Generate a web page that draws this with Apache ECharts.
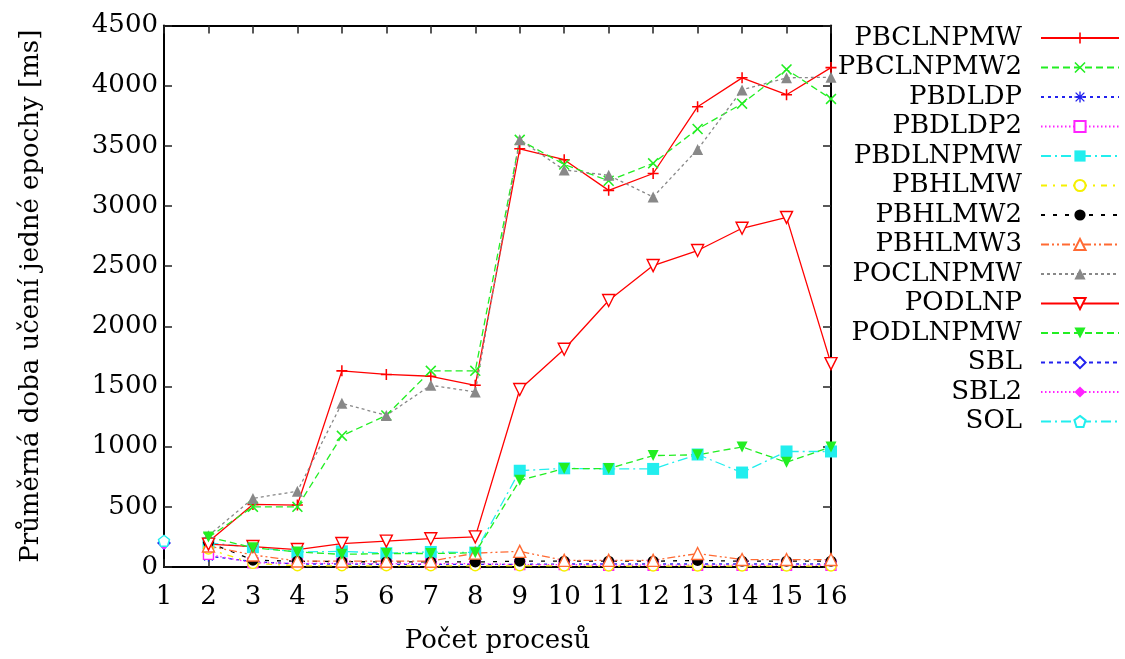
<!DOCTYPE html>
<html>
<head>
<meta charset="utf-8">
<script src="https://cdn.jsdelivr.net/npm/echarts@6/dist/echarts.min.js"></script>
<style>html,body{margin:0;padding:0;background:#fff}#c{width:1125px;height:659px}</style>
</head>
<body>
<div id="c"></div>
<script>
var procs = [1, 2, 3, 4, 5, 6, 7, 8, 9, 10, 11, 12, 13, 14, 15, 16];
var yTicks = [0, 500, 1000, 1500, 2000, 2500, 3000, 3500, 4000, 4500];

var PBCLNPMW  = [null, 210, 520, 515, 1630, 1600, 1585, 1510, 3475, 3385, 3130, 3270, 3825, 4065, 3925, 4150];
var PBCLNPMW2 = [null, 245, 500, 500, 1090, 1260, 1630, 1630, 3550, 3345, 3210, 3355, 3640, 3850, 4135, 3890];
var PBDLDP    = [null, 90, 45, 25, 25, 22, 22, 22, 22, 25, 25, 25, 25, 25, 25, 25];
var PBDLDP2   = [null, 105, 35, 30, 30, 28, 28, 28, 20, 20, 15, 15, 15, 15, 15, 15];
var PBDLNPMW  = [null, 200, 165, 125, 130, 115, 125, 120, 800, 820, 815, 815, 935, 785, 960, 960];
var PBHLMW    = [null, 150, 30, 10, 10, 10, 10, 10, 10, 8, 8, 8, 8, 8, 8, 8];
var PBHLMW2   = [null, 205, 57, 48, 45, 42, 42, 42, 48, 48, 48, 48, 55, 48, 48, 48];
var PBHLMW3   = [null, 175, 100, 50, 48, 48, 48, 115, 130, 55, 55, 55, 112, 62, 62, 62];
var POCLNPMW  = [null, 260, 570, 630, 1360, 1260, 1510, 1455, 3550, 3300, 3255, 3075, 3470, 3965, 4065, 4070];
var PODLNP    = [null, 190, 170, 145, 195, 215, 235, 250, 1475, 1810, 2215, 2505, 2630, 2815, 2905, 1690];
var PODLNPMW  = [null, 250, 160, 125, 105, 112, 112, 118, 720, 818, 818, 926, 932, 998, 870, 998];
var SBL       = [200, null, null, null, null, null, null, null, null, null, null, null, null, null, null, null];
var SBL2      = [185, null, null, null, null, null, null, null, null, null, null, null, null, null, null, null];
var SOL       = [218, null, null, null, null, null, null, null, null, null, null, null, null, null, null, null];

var FONT = 'DejaVu Serif';
var P_PLUS = 'path://M4.3,0H5.7V4.3H10V5.7H5.7V10H4.3V5.7H0V4.3H4.3Z';
var P_CROSS = 'path://M1,0L5,4L9,0L10,1L6,5L10,9L9,10L5,6L1,10L0,9L4,5L0,1Z';
var P_STAR = 'path://M4.4,0H5.6V4.4H10V5.6H5.6V10H4.4V5.6H0V4.4H4.4Z M1.5,0.7L5,4.2L8.5,0.7L9.3,1.5L5.8,5L9.3,8.5L8.5,9.3L5,5.8L1.5,9.3L0.7,8.5L4.2,5L0.7,1.5Z';
var P_TRIDOWN = 'path://M0,0L10,0L5,9Z';
var P_PENT = 'path://M5,0L10,3.8L8.1,10L1.9,10L0,3.8Z';

var defs = [
  {name: 'PBCLNPMW',  data: PBCLNPMW,  color: '#ff0000', dash: 'solid',          sym: P_PLUS,        open: false, size: 11},
  {name: 'PBCLNPMW2', data: PBCLNPMW2, color: '#22ee22', dash: [7, 4],           sym: P_CROSS,       open: false, size: 11},
  {name: 'PBDLDP',    data: PBDLDP,    color: '#2222ee', dash: [3, 4],           sym: P_STAR,        open: false, size: 11},
  {name: 'PBDLDP2',   data: PBDLDP2,   color: '#ff22ff', dash: [1.5, 2.5],       sym: 'rect',        open: true,  size: 10},
  {name: 'PBDLNPMW',  data: PBDLNPMW,  color: '#22eeee', dash: [10, 4, 2, 4],    sym: 'rect',        open: false, size: 12},
  {name: 'PBHLMW',    data: PBHLMW,    color: '#f5f000', dash: [6, 6, 2, 6],     sym: 'circle',      open: true,  size: 10},
  {name: 'PBHLMW2',   data: PBHLMW2,   color: '#000000', dash: [4, 8],           sym: 'circle',      open: false, size: 11},
  {name: 'PBHLMW3',   data: PBHLMW3,   color: '#ff6a33', dash: [8, 3, 2, 3, 2, 3], sym: 'triangle',  open: true,  size: 12},
  {name: 'POCLNPMW',  data: POCLNPMW,  color: '#888888', dash: [3, 3],           sym: 'triangle',    open: false, size: 11},
  {name: 'PODLNP',    data: PODLNP,    color: '#ff0000', dash: 'solid',          sym: P_TRIDOWN,     open: true,  size: 12},
  {name: 'PODLNPMW',  data: PODLNPMW,  color: '#22ee22', dash: [7, 4],           sym: P_TRIDOWN,     open: false, size: 11},
  {name: 'SBL',       data: SBL,       color: '#2222ee', dash: [4, 4],           sym: 'diamond',     open: true,  size: 12},
  {name: 'SBL2',      data: SBL2,      color: '#ff22ff', dash: [1.5, 2.5],       sym: 'diamond',     open: false, size: 10},
  {name: 'SOL',       data: SOL,       color: '#22eeee', dash: [10, 4, 2, 4],    sym: P_PENT,        open: true,  size: 11}
];

var series = defs.map(function (d) {
  return {
    name: d.name,
    type: 'line',
    data: procs.map(function (x, i) { return [x, d.data[i]]; }),
    connectNulls: false,
    symbol: d.sym,
    symbolSize: d.size,
    showSymbol: true,
    showAllSymbol: true,
    clip: false,
    lineStyle: {color: d.color, width: 1.3, type: d.dash},
    itemStyle: d.open ? {color: '#ffffff', borderColor: d.color, borderWidth: 1.4}
                      : {color: d.color, borderColor: d.color, borderWidth: 0},
    emphasis: {disabled: true},
    z: 2
  };
});

var chart = echarts.init(document.getElementById('c'), null, {renderer: 'canvas'});
var axisLine = {show: true, onZero: false, lineStyle: {color: '#000', width: 2}};
var tickIn = {show: true, inside: true, length: 8, lineStyle: {color: '#222', width: 1.5}};
chart.setOption({
  animation: false,
  backgroundColor: '#fff',
  grid: {left: 164, right: 294, top: 25.5, bottom: 91.5, containLabel: false},
  legend: {
    orient: 'vertical', right: 5, top: 25, align: 'right', padding: 0,
    itemWidth: 78, itemHeight: 14, itemGap: 3.5,
    selectedMode: false,
    textStyle: {fontFamily: FONT, fontSize: 26, color: '#000', padding: [0, 14, 0, 0]},
    data: defs.map(function (d) { return d.name; })
  },
  xAxis: [
    {type: 'value', min: 1, max: 16, interval: 1, position: 'bottom',
     name: 'Počet procesů', nameLocation: 'middle', nameGap: 61,
     nameTextStyle: {fontFamily: FONT, fontSize: 26, color: '#000'},
     axisLine: axisLine, axisTick: tickIn, splitLine: {show: false},
     axisLabel: {fontFamily: FONT, fontSize: 26, color: '#000', margin: 17,
       formatter: function (v) { return procs.indexOf(v) >= 0 ? String(v) : ''; }}},
    {type: 'value', min: 1, max: 16, interval: 1, position: 'top',
     axisLine: axisLine, axisTick: tickIn, splitLine: {show: false}, axisLabel: {show: false}}
  ],
  yAxis: [
    {type: 'value', min: 0, max: 4500, interval: 500, position: 'left',
     name: 'Průměrná doba učení jedné epochy [ms]', nameLocation: 'middle', nameGap: 120, nameRotate: 90,
     nameTextStyle: {fontFamily: FONT, fontSize: 26, color: '#000'},
     axisLine: axisLine, axisTick: tickIn, splitLine: {show: false},
     axisLabel: {fontFamily: FONT, fontSize: 26, color: '#000', margin: 6,
       formatter: function (v) { return yTicks.indexOf(v) >= 0 ? String(v) : ''; }}},
    {type: 'value', min: 0, max: 4500, interval: 500, position: 'right',
     axisLine: axisLine, axisTick: tickIn, splitLine: {show: false}, axisLabel: {show: false}}
  ],
  series: series
});
</script>
</body>
</html>
